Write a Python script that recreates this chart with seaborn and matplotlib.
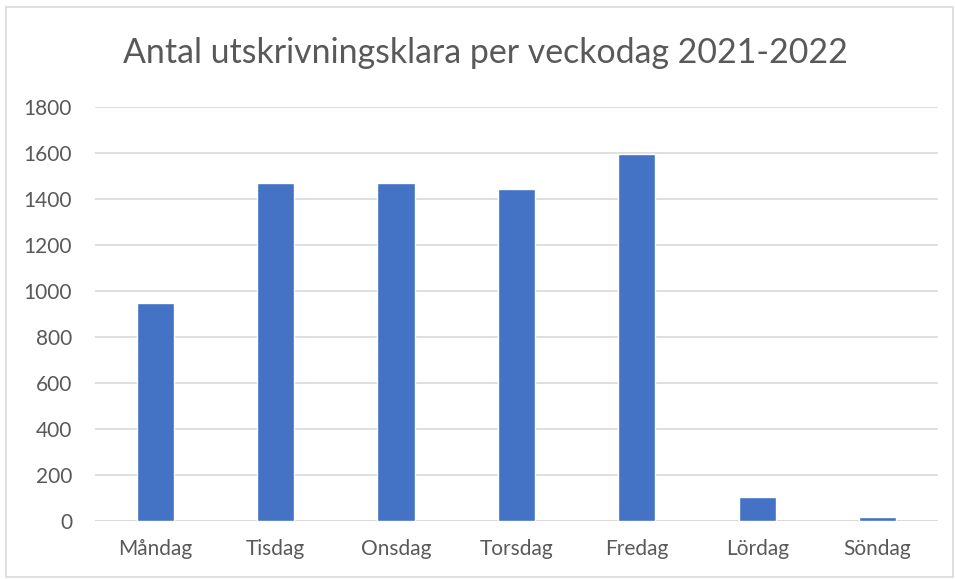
import matplotlib
matplotlib.use("Agg")
import matplotlib.pyplot as plt
import seaborn as sns
import pandas as pd
from matplotlib.patches import Rectangle

# data
dagar = ["Måndag", "Tisdag", "Onsdag", "Torsdag", "Fredag", "Lördag", "Söndag"]
antal = [947, 1468, 1470, 1443, 1596, 106, 19]
y_ticks = [0, 200, 400, 600, 800, 1000, 1200, 1400, 1600, 1800]

sns.set_theme(style="white")
plt.rcParams["font.family"] = ["Lato", "DejaVu Sans"]

df = pd.DataFrame({"Veckodag": dagar, "Antal": antal})

fig = plt.figure(figsize=(9.55, 5.79), dpi=100)
ax = fig.add_axes([0.0995, 0.1, 0.8825, 0.715])

sns.barplot(data=df, x="Veckodag", y="Antal", color="#4472C4", width=0.31,
            saturation=1, ax=ax)

ax.set_ylim(0, 1800)
ax.set_yticks(y_ticks)
ax.set_xlim(-0.5, len(dagar) - 0.5)
ax.yaxis.grid(True, color="#d9d9d9", linewidth=1.2)
ax.set_axisbelow(True)
for s in ax.spines.values():
    s.set_visible(False)
ax.axhline(0, color="#d9d9d9", linewidth=1.2, zorder=0.5)
ax.tick_params(axis="both", length=0, labelsize=15, colors="#595959")
ax.tick_params(axis="x", pad=13)
ax.tick_params(axis="y", pad=16.5)
ax.set_xlabel("")
ax.set_ylabel("")

fig.text(0.508, 0.891, "Antal utskrivningsklara per veckodag 2021-2022",
         ha="center", va="baseline", fontsize=24.4, color="#595959")

# chart area border
fig.patches.append(Rectangle((0.006, 0.003), 0.992, 0.985, transform=fig.transFigure,
                             fill=False, edgecolor="#d9d9d9", linewidth=1.2))

fig.savefig("out.png", dpi=100)
